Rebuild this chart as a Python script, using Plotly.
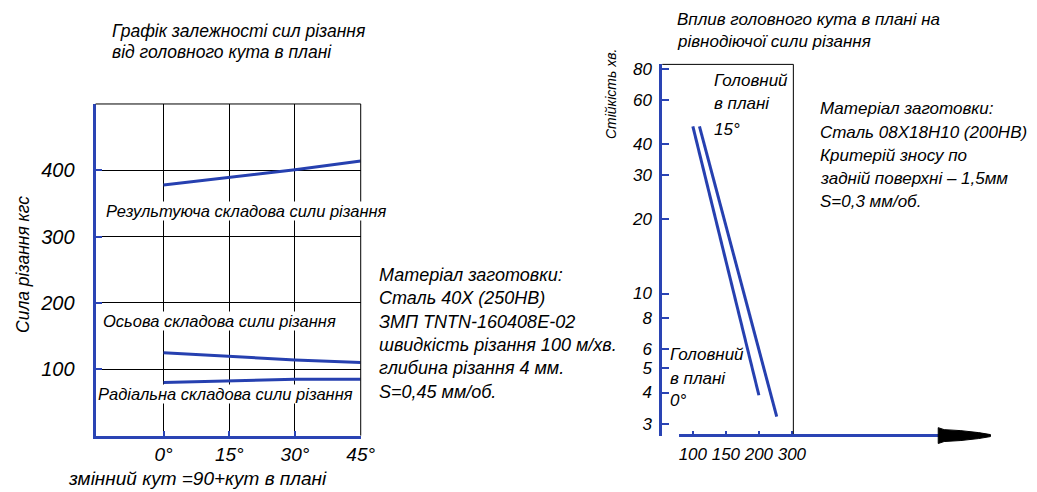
import plotly.graph_objects as go

W, H = 1037, 492


def px(x):
    return x / W


def py(y):
    return 1 - y / H


# ---------------- data ----------------
angles = [0, 15, 30, 45]
angle_labels = ["0°", "15°", "30°", "45°"]
resultant_force = [378, 389, 401, 414]
axial_force = [125, 119, 114, 110]
radial_force = [80, 83, 85, 85]
force_ticks = [100, 200, 300, 400]

speed_ticks = [100, 150, 200, 250]
speed_tick_labels = ["100", "150", "200", "300"]
life_ticks = [3, 4, 5, 6, 8, 10, 20, 30, 40, 60, 80]
speed_0 = [100, 200]
life_0 = [47, 3.9]
speed_15 = [110, 227]
life_15 = [47, 3.2]

BLUE = "#2a44b4"
LINE = "#2640b0"
FONT = "Liberation Sans, Arial, sans-serif"


def f(size):
    return dict(family=FONT, size=size, color="black", style="italic")


fig = go.Figure()

fig.add_trace(go.Scatter(x=angles, y=resultant_force, mode="lines",
                         line=dict(color=LINE, width=3), xaxis="x", yaxis="y"))
fig.add_trace(go.Scatter(x=angles, y=axial_force, mode="lines",
                         line=dict(color=LINE, width=3), xaxis="x", yaxis="y"))
fig.add_trace(go.Scatter(x=angles, y=radial_force, mode="lines",
                         line=dict(color=LINE, width=3), xaxis="x", yaxis="y"))

fig.add_trace(go.Scatter(x=speed_0, y=life_0, mode="lines",
                         line=dict(color=LINE, width=3), xaxis="x2", yaxis="y2"))
fig.add_trace(go.Scatter(x=speed_15, y=life_15, mode="lines",
                         line=dict(color=LINE, width=3), xaxis="x2", yaxis="y2"))

shapes = [
    # left chart border (top/right) in black
    dict(type="line", xref="x domain", yref="y domain", x0=0, x1=1, y0=1, y1=1,
         line=dict(color="black", width=1)),
    dict(type="line", xref="x domain", yref="y domain", x0=1, x1=1, y0=0, y1=1,
         line=dict(color="black", width=1)),
    # right chart border
    dict(type="line", xref="x2 domain", yref="y2 domain", x0=0, x1=1, y0=1, y1=1,
         line=dict(color="black", width=1)),
    dict(type="line", xref="x2 domain", yref="y2 domain", x0=1, x1=1, y0=0, y1=1,
         line=dict(color="black", width=1)),
    # right x-axis line with arrow
    dict(type="line", xref="paper", yref="paper", x0=px(689), x1=px(958),
         y0=py(435), y1=py(435), line=dict(color=BLUE, width=3)),
]
arrow_pts = [(952, 427), (958, 429), (975, 430), (993, 432), (1005, 434),
             (1005, 436), (993, 438), (975, 440), (958, 441), (952, 443)]
path = "M " + " L ".join(f"{px(x):.5f},{py(y):.5f}" for x, y in arrow_pts) + " Z"
shapes.append(dict(type="path", xref="paper", yref="paper", path=path,
                   fillcolor="black", line=dict(color="black", width=1)))

ann = []


def text(x, y, s, size, anchor="left", bg=None, angle=0):
    d = dict(x=px(x), y=py(y), xref="paper", yref="paper", text=s, showarrow=False,
             xanchor=anchor, yanchor="middle", font=f(size), textangle=angle)
    if bg:
        d.update(bgcolor=bg, borderpad=0)
    ann.append(d)


# left chart titles
text(112, 26, "Графік залежності сил різання", 17.5)
text(112, 47, "від головного кута в плані", 17.5)
text(24, 262, "Сила різання кгс", 17.5, anchor="center", angle=-90)
text(200, 478, "змінний кут =90+кут в плані", 19, anchor="center")

text(107, 208, "Результуюча складова сили різання", 16.5, bg="white")
text(104, 319, "Осьова складова сили різання", 16.5, bg="white")
text(98, 393, "Радіальна складова сили різання", 16.5, bg="white")

left_block = ["Матеріал заготовки:", "Сталь 40Х (250НВ)", "ЗМП TNTN-160408E-02",
              "швидкість різання 100 м/хв.", "глибина різання 4 мм.", "S=0,45 мм/об."]
for i, s in enumerate(left_block):
    text(383, 273 + i * 23.5, s, 18)

# right chart
text(685, 15, "Вплив головного кута в плані на", 17)
text(685, 37, "рівнодіючої сили різання", 17)
text(620, 90, "Стійкість хв.", 14, anchor="center", angle=-90)
text(722, 76, "Головний", 17)
text(722, 100, "в плані", 17)
text(722, 126, "15°", 17)
text(678, 353, "Головний", 17)
text(678, 377, "в плані", 17)
text(678, 400, "0°", 17)

right_block = ["Матеріал заготовки:", "Сталь 08Х18Н10 (200НВ)", "Критерій зносу по",
               "задній поверхні – 1,5мм", "S=0,3 мм/об."]
for i, s in enumerate(right_block):
    text(830, 105 + i * 23.5, s, 17)

fig.update_layout(
    width=W, height=H, autosize=False,
    margin=dict(l=0, r=0, t=0, b=0),
    paper_bgcolor="white", plot_bgcolor="white",
    showlegend=False,
    shapes=shapes,
    annotations=ann,
    xaxis=dict(domain=[px(97), px(366)], range=[-15.5, 45], anchor="y",
               tickmode="array", tickvals=angles, ticktext=angle_labels,
               ticks="inside", ticklen=5, tickwidth=2, tickcolor=BLUE,
               showline=True, linecolor=BLUE, linewidth=3,
               showgrid=True, gridcolor="black", gridwidth=1, zeroline=False,
               tickfont=f(19), ticklabelstandoff=0),
    yaxis=dict(domain=[py(435), py(100)], range=[0, 500], anchor="x",
               tickmode="array", tickvals=force_ticks,
               ticks="inside", ticklen=6, tickwidth=2, tickcolor=BLUE,
               showline=True, linecolor=BLUE, linewidth=3,
               showgrid=True, gridcolor="black", gridwidth=1, zeroline=False,
               tickfont=f(20), ticklabelstandoff=14),
    xaxis2=dict(domain=[px(672), px(805)], range=[53.7, 252.2], anchor="y2",
                tickmode="array", tickvals=speed_ticks, ticktext=speed_tick_labels,
                ticks="inside", ticklen=5, tickwidth=2, tickcolor=BLUE,
                showline=False, showgrid=False, zeroline=False,
                tickfont=f(17), ticklabelstandoff=6),
    yaxis2=dict(domain=[py(435), py(60)], type="log", range=[0.429, 1.921], anchor="x2",
                tickmode="array", tickvals=life_ticks,
                ticks="inside", ticklen=7, tickwidth=2, tickcolor=BLUE,
                showline=True, linecolor=BLUE, linewidth=3,
                showgrid=False, zeroline=False,
                tickfont=f(17), ticklabelstandoff=4),
)

fig.write_html("out.html", config={"displayModeBar": False},
               post_script="document.body.style.margin='0';document.body.style.overflow='hidden';")
